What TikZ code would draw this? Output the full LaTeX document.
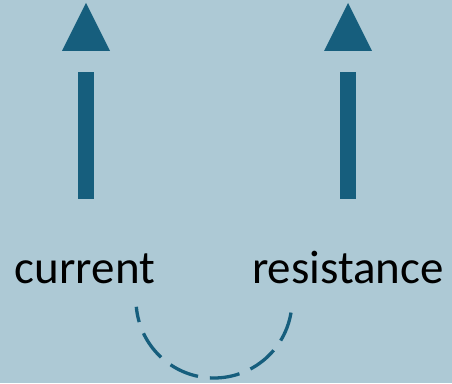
\documentclass[tikz,border=0pt]{standalone}
\usepackage{fontspec}
\setmainfont{Carlito}
\definecolor{panelbg}{RGB}{173,201,213}
\definecolor{arrowblue}{RGB}{22,94,125}
\newlength{\barwidth}
\setlength{\barwidth}{16pt}

\begin{document}
\begin{tikzpicture}[x=1pt,y=1pt,
    word/.style={font=\fontsize{47}{56}\selectfont, inner sep=0pt, anchor=base},
    bar/.style={draw=arrowblue, line width=\barwidth},
    head/.style={fill=arrowblue},
    swing/.style={draw=arrowblue, line width=3.3pt, dash pattern=on 30pt off 12pt}]
    \fill[panelbg] (0,0) rectangle (452,383);
    \useasboundingbox (0,0) rectangle (452,383);

    \node[word] (current) at (85,100) {current};
    \node[word] (resistance) at (348,100) {resistance};

    \foreach \x in {86, 348} {
        \draw[bar] (\x,184) -- (\x,311);
        \fill[head] (\x-24,332) -- (\x+24,332) -- (\x,380) -- cycle;
    }

    \coordinate (swingR) at (291,70.4);
    \draw[swing] (swingR) arc[start angle=-9.3, end angle=-175, radius=78pt];
\end{tikzpicture}
\end{document}
